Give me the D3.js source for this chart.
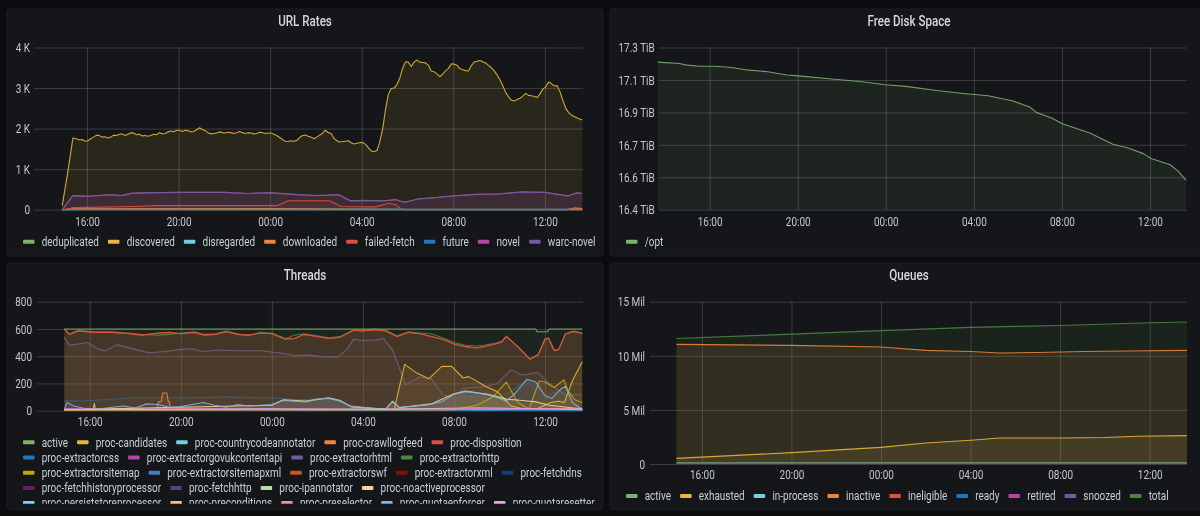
<!DOCTYPE html>
<html><head><meta charset="utf-8">
<script src="https://cdn.jsdelivr.net/npm/d3@7"></script>
<style>html,body{margin:0;padding:0;background:#0b0c0e;overflow:hidden}svg{display:block;filter:blur(.35px)}text{font-family:Roboto,sans-serif}</style>
</head><body><svg id="c" width="1200" height="516"></svg>
<script>
const hourTicks=[16,20,24,28,32,36];
const hourDomain=[13.68,37.66];

/* URL Rates: [hour, urls/s] */
const discovered=[[14.91,100],[15.16,950],[15.38,1770],[15.53,1750],[15.66,1720],[15.78,1730],[15.91,1690],[16.04,1700],[16.16,1750],[16.28,1790],[16.41,1840],[16.53,1830],[16.66,1790],[16.78,1800],[16.91,1770],[17.04,1790],[17.16,1840],[17.28,1830],[17.41,1860],[17.53,1870],[17.66,1830],[17.78,1860],[17.91,1900],[18.04,1890],[18.16,1850],[18.28,1860],[18.41,1820],[18.53,1830],[18.66,1810],[18.78,1830],[18.91,1860],[19.04,1850],[19.16,1900],[19.28,1870],[19.41,1880],[19.53,1920],[19.66,1940],[19.78,1920],[19.91,1960],[20.04,1960],[20.16,1930],[20.28,1960],[20.41,1950],[20.53,1920],[20.66,1930],[20.78,1970],[20.91,2020],[21.04,1980],[21.16,1950],[21.28,1900],[21.41,1870],[21.53,1880],[21.66,1890],[21.78,1920],[21.91,1900],[22.04,1890],[22.16,1910],[22.28,1900],[22.41,1880],[22.53,1900],[22.66,1930],[22.78,1900],[22.91,1880],[23.04,1900],[23.16,1890],[23.28,1870],[23.41,1880],[23.53,1910],[23.66,1900],[23.78,1880],[23.91,1890],[24.04,1890],[24.16,1860],[24.28,1830],[24.41,1780],[24.53,1730],[24.66,1690],[24.78,1680],[24.91,1700],[25.04,1690],[25.16,1710],[25.28,1780],[25.41,1830],[25.53,1840],[25.66,1810],[25.78,1790],[25.91,1750],[26.04,1790],[26.16,1840],[26.28,1880],[26.41,1960],[26.53,1900],[26.66,1880],[26.78,1760],[26.91,1700],[27.04,1670],[27.16,1680],[27.28,1690],[27.41,1700],[27.53,1650],[27.66,1620],[27.78,1640],[27.91,1650],[28.04,1660],[28.16,1610],[28.28,1530],[28.41,1450],[28.53,1430],[28.66,1460],[28.78,1660],[28.91,2000],[29.04,2450],[29.16,2850],[29.28,2990],[29.41,3000],[29.53,3080],[29.66,3250],[29.78,3480],[29.91,3650],[30.04,3640],[30.16,3530],[30.28,3640],[30.41,3690],[30.53,3640],[30.66,3630],[30.78,3620],[30.91,3560],[31.04,3420],[31.16,3400],[31.28,3350],[31.41,3280],[31.53,3340],[31.66,3430],[31.78,3480],[31.91,3600],[32.04,3590],[32.16,3560],[32.28,3480],[32.41,3450],[32.53,3430],[32.66,3420],[32.78,3550],[32.91,3640],[33.04,3660],[33.16,3680],[33.28,3650],[33.41,3620],[33.53,3560],[33.66,3500],[33.78,3430],[33.91,3320],[34.04,3210],[34.16,3050],[34.28,2900],[34.41,2780],[34.53,2700],[34.66,2680],[34.78,2720],[34.91,2750],[35.04,2800],[35.16,2870],[35.28,2820],[35.41,2810],[35.53,2790],[35.66,2770],[35.78,2850],[35.91,2980],[36.04,3030],[36.16,3150],[36.28,3110],[36.41,3050],[36.53,3060],[36.66,2900],[36.78,2700],[36.91,2500],[37.04,2400],[37.16,2330],[37.28,2300],[37.41,2260],[37.64,2210]];
const warcNovel=[[14.91,0],[15.38,350],[16,330],[17,370],[17.5,350],[18,410],[19,420],[20,430],[22,430],[23,400],[24,420],[25,380],[26,350],[27,370],[27.5,220],[28,230],[29,220],[29.5,250],[29.8,190],[30,200],[30.5,270],[31,290],[32,340],[33,380],[34,390],[35,440],[36,430],[37,340],[37.4,420],[37.64,400]];
const novel=[[14.91,0],[15.38,348],[16,328],[17,368],[17.5,348],[18,408],[19,418],[20,428],[22,428],[23,398],[24,418],[25,378],[26,348],[27,368],[27.5,218],[28,228],[29,218],[29.5,248],[29.8,188],[30,198],[30.5,268],[31,288],[32,338],[33,378],[34,388],[35,438],[36,428],[37,338],[37.4,418],[37.64,398]];
const failedFetch=[[14.91,0],[15.38,50],[18,80],[19,100],[24.3,100],[24.8,220],[26.6,220],[27.1,80],[28.6,70],[29.2,160],[29.5,120],[29.75,0],[37,0],[37.3,50],[37.64,30]];
const deduplicated=[[14.91,0],[37.64,2]];
const disregarded=[[14.91,0],[15.38,12],[24,15],[30,8],[37.64,10]];
const downloaded=[[14.91,0],[15.38,20],[24,22],[30,6],[37,6],[37.3,40],[37.64,20]];
const future=[[14.91,0],[37.64,0]];

/* Free disk space: [hour, TiB] */
const diskOpt=[[13.65,17.195],[14.64,17.188],[14.9,17.181],[15.51,17.174],[16.21,17.174],[16.91,17.169],[17.78,17.154],[18.65,17.146],[19.52,17.129],[20.04,17.125],[21.43,17.11],[22.82,17.096],[24,17.079],[24.91,17.071],[26.3,17.05],[27.52,17.035],[28.65,17.023],[29.79,16.996],[30.57,16.964],[30.83,16.938],[31.53,16.909],[32.05,16.879],[33.27,16.833],[34.31,16.775],[35.01,16.756],[35.7,16.727],[36.05,16.702],[36.92,16.67],[37.27,16.639],[37.64,16.591]];
const diskTickValues=[16.44,16.606,16.772,16.938,17.104,17.27];
const diskTickLabels=["16.4 TiB","16.6 TiB","16.7 TiB","16.9 TiB","17.1 TiB","17.3 TiB"];

/* Threads: [hour, count] */
const thActive=[[14.89,600],[35.58,600],[35.65,580],[36.1,580],[36.18,600],[37.64,600]];
const thDisposition=[[14.89,600],[15.1,560],[15.5,585],[16.2,575],[17,575],[17.7,565],[18.3,555],[19,570],[19.5,575],[20,565],[20.6,575],[21,555],[21.5,560],[22,580],[22.5,560],[23,555],[23.5,570],[24,565],[24.6,525],[25,530],[25.4,560],[26,545],[26.5,530],[27,540],[27.6,590],[28,585],[28.5,595],[29,585],[29.5,545],[30,575],[30.5,565],[31,545],[31.5,525],[32,490],[32.5,470],[33,460],[33.3,470],[33.8,490],[34.1,505],[34.3,545],[34.8,470],[35.33,378],[35.7,410],[36,525],[36.15,530],[36.4,442],[36.6,450],[36.9,565],[37.26,582],[37.64,567]];
const thHttp=[[14.89,600],[15.1,565],[15.5,590],[16.2,580],[17,580],[17.7,570],[18.3,560],[19,555],[19.5,560],[20,570],[20.6,580],[21,560],[21.5,565],[22,585],[22.5,565],[23,550],[23.5,575],[24,570],[24.6,530],[25,555],[25.4,565],[26,550],[26.5,535],[27,545],[27.6,595],[28,590],[28.5,600],[29,590],[29.5,550],[30,580],[30.5,570],[31,565],[31.5,535],[32,500],[32.5,480],[33,475],[33.3,480],[33.8,495],[34.1,510],[34.3,545],[34.8,470],[35.33,380],[35.7,412],[36,530],[36.15,535],[36.4,445],[36.6,452],[36.9,565],[37.26,585],[37.64,570]];
const thFetchHttp=[[14.89,540],[15.1,480],[15.5,490],[15.9,500],[16.4,450],[16.7,440],[17.2,485],[18,450],[18.6,425],[19.3,435],[20,450],[20.5,455],[21,435],[21.7,445],[22.5,440],[23.5,440],[24.3,425],[25,405],[25.5,410],[26.3,395],[26.9,395],[27.3,450],[27.6,525],[28,515],[28.6,520],[28.9,530],[29.3,447],[29.55,337],[29.87,190],[30.5,245],[31,235],[31.5,117],[32,93],[32.4,165],[33.4,178],[33.9,200],[34.5,300],[35,260],[35.66,281],[36.25,190],[36.9,117],[37.64,117]];
const thCandidates=[[14.89,8],[16.15,8],[16.2,55],[16.25,8],[29.1,8],[29.37,5],[29.84,340],[30.37,276],[30.9,235],[31.47,325],[31.9,325],[32.4,240],[32.65,250],[33.4,178],[33.9,140],[34.5,35],[34.9,20],[35.6,10],[36.25,60],[36.6,70],[36.85,60],[37.2,220],[37.64,360]];
const thSitemap=[[14.89,4],[32,6],[32.5,25],[33,40],[33.7,100],[34.3,210],[34.8,60],[35.3,15],[35.75,220],[36,210],[36.4,170],[36.84,227],[37,150],[37.3,80],[37.64,60]];
const thEnforcer=[[14.89,10],[15,60],[15.3,35],[15.7,20],[16.3,10],[17,25],[17.5,35],[18,20],[18.5,50],[19,45],[19.5,25],[20,30],[20.5,45],[21,60],[21.5,40],[22,25],[22.5,45],[23,35],[23.5,40],[24,45],[24.5,75],[25,70],[25.5,65],[26,85],[26.5,90],[27,70],[27.5,30],[28,25],[28.5,15],[29,10],[29.3,70],[29.6,25],[30,30],[31,45],[31.5,70],[32,120],[32.5,140],[33,130],[33.5,115],[34,90],[34.3,70],[34.7,130],[35.2,230],[35.6,210],[36,110],[36.3,90],[36.7,160],[36.9,180],[37.2,60],[37.64,10]];
const thNoActive=[[14.89,6],[24,40],[24.5,80],[25.5,70],[26.5,95],[27,75],[27.5,28],[29,12],[29.3,68],[29.6,22],[31,50],[32,125],[32.5,145],[33.5,120],[34.3,85],[35,75],[35.6,65],[36.2,40],[37.64,12]];
const thFetchDns=[[14.89,70],[16,75],[18,95],[20,95],[22,100],[24,95],[25,80],[26,85],[27,60],[28,22],[29,8],[29.3,60],[29.6,20],[31,40],[32,110],[33,125],[34,85],[35.2,220],[36,100],[36.9,170],[37.64,8]];
const thCrawlLog=[[14.89,5],[18.95,5],[19.02,66],[19.15,66],[19.2,130],[19.39,130],[19.45,66],[19.5,66],[19.55,10],[37.64,10]];
const thPreselector=[[14.89,5],[20,12],[26,8],[30,14],[34,10],[37.64,18]];
const thResetter=[[14.89,12],[18,8],[24,14],[29,10],[33,22],[37.64,8]];
const thGovuk=[[14.89,14],[20,16],[28,12],[37.64,14]];
const thHtml=[[14.89,6],[24,8],[33,18],[37.64,10]];
const thCss=[[14.89,2],[37.64,2]];

/* Queues: [hour, millions] */
const qTotal=[[14.87,11.6],[20,12],[24,12.33],[28,12.63],[30,12.72],[32,12.8],[36,13.05],[37.66,13.12]];
const qInactive=[[14.87,11.06],[20,10.96],[24,10.81],[26,10.5],[28,10.4],[29.3,10.26],[31,10.3],[33,10.4],[35,10.45],[37.66,10.5]];
const qExhausted=[[14.87,.52],[20,1.05],[24,1.54],[26,1.94],[28,2.19],[29.3,2.4],[32,2.4],[34,2.45],[35.5,2.56],[37.66,2.62]];
const qSnoozed=[[14.87,.06],[37.66,.06]];
const qActive=[[14.87,.1],[37.66,.1]];

const C={g:"#7EB26D",y:"#EAB839",c:"#6ED0E0",o:"#EF843C",r:"#E24D42",b:"#1F78C1",p:"#BA43A9",v:"#705DA0"};
const urlLegend=[["deduplicated",C.g,deduplicated],["discovered",C.y,discovered],["disregarded",C.c,disregarded],["downloaded",C.o,downloaded],["failed-fetch",C.r,failedFetch],["future",C.b,future],["novel",C.p,novel],["warc-novel",C.v,warcNovel]];
const diskLegend=[["/opt",C.g,diskOpt]];
const threadLegend=[["active",C.g,thActive],["proc-candidates",C.y,thCandidates],["proc-countrycodeannotator",C.c,null],["proc-crawllogfeed",C.o,thCrawlLog],["proc-extractorhttp-order",null,null],["proc-disposition",C.r,thDisposition],["proc-extractorcss",C.b,thCss],["proc-extractorgovukcontentapi",C.p,thGovuk],["proc-extractorhtml",C.v,thHtml],["proc-extractorhttp","#508642",null],["proc-extractorsitemap","#CCA300",thSitemap],["proc-extractorsitemapxml","#447EBC",null],["proc-extractorswf","#C15C17",null],["proc-extractorxml","#890F02",null],["proc-fetchdns","#0A437C",null],["proc-fetchhistoryprocessor","#6D1F62",null],["proc-fetchhttp","#584477",null],["proc-ipannotator","#B7DBAB",null],["proc-noactiveprocessor","#F4D598",thNoActive],["proc-persiststoreprocessor","#70DBED",null],["proc-preconditions","#F9BA8F",null],["proc-preselector","#F29191",thPreselector],["proc-quotaenforcer","#82B5D8",thEnforcer],["proc-quotaresetter","#E5A8E2",thResetter]].filter(s=>s[1]);
const queueLegend=[["active",C.g,qActive],["exhausted",C.y,qExhausted],["in-process",C.c,null],["inactive",C.o,qInactive],["ineligible",C.r,null],["ready",C.b,null],["retired",C.p,null],["snoozed",C.v,qSnoozed],["total","#508642",qTotal]];
/* Threads series drawn underneath the others; some lines look lighter than their swatch in the picture */
const threadExtra=[["proc-fetchhttp","#75607f",thFetchHttp],["proc-fetchdns","#3f6078",thFetchDns],["proc-extractorhttp","#508642",thHttp],["proc-extractorswf","#C15C17",thDisposition]];

const panels=[
 {title:"URL Rates",box:[7,9,596,247],plot:[34,583,47.5,209.7],yDom:[0,4000],yTicks:[0,1000,2000,3000,4000],yFmt:d=>d?d/1000+" K":"0",labelEnd:30,xLabelY:221.7,legendX:23,legendY:241.7,legend:urlLegend,fill:.1},
 {title:"Free Disk Space",box:[610,9,598,247],plot:[658.6,1186.7,47.5,209.7],yDom:[16.44,17.27],yTicks:diskTickValues,yFmt:(d,i)=>diskTickLabels[i],labelEnd:654.7,xLabelY:221.7,legendX:626,legendY:241.7,legend:diskLegend,fill:.1},
 {title:"Threads",box:[7,263,596,246.7],plot:[37,583,301.7,410.7],yDom:[0,800],yTicks:[0,200,400,600,800],yFmt:d=>d,labelEnd:32,xLabelY:422,legendX:23,legendY:442.3,legend:threadLegend,extra:threadExtra,clipY:503.7,fill:.1},
 {title:"Queues",box:[610,263,598,246.7],plot:[650,1187,301.7,464],yDom:[0,15],yTicks:[0,5,10,15],yFmt:d=>d?d+" Mil":"0",labelEnd:645,xLabelY:475.3,legendX:626,legendY:496,legend:queueLegend,fill:.12}
];

const squeeze=.83;
const svg=d3.select("#c");
const hDate=h=>new Date(2020,0,1,0,Math.round(h*60));
svg.append("rect").attr("width",1200).attr("height",516).attr("fill","#0b0c0e");
const defs=svg.append("defs");

panels.forEach((p,pi)=>{
 const [bx,by,bw,bh]=p.box,[x0,x1,yT,yB]=p.plot;
 const g=svg.append("g");
 g.append("rect").attr("x",bx).attr("y",by).attr("width",bw).attr("height",bh).attr("rx",3).attr("fill","#141619").attr("stroke","#1c1e22");
 g.append("text").attr("transform",`translate(${bx+bw/2},${by+12}) scale(${squeeze},1)`).attr("text-anchor","middle").attr("dy",".35em").attr("font-size",14).attr("font-weight",500).attr("fill","#d8d9da").text(p.title);

 const x=d3.scaleTime().domain(hourDomain.map(hDate)).range([x0,x1]);
 const y=d3.scaleLinear().domain(p.yDom).range([yB,yT]);

 const ax=d3.axisBottom(x).tickValues(hourTicks.map(hDate)).tickFormat(d3.timeFormat("%H:%M")).tickSize(-(yB-yT)).tickPadding(0);
 const gx=g.append("g").attr("transform",`translate(0,${yB})`).call(ax);
 const ay=d3.axisLeft(y).tickValues(p.yTicks).tickFormat(p.yFmt).tickSize(-(x1-x0)).tickPadding(0);
 const gy=g.append("g").attr("transform",`translate(${x0},0)`).call(ay);
 [gx,gy].forEach(a=>{a.select(".domain").remove();a.selectAll("line").attr("stroke","#fff").attr("stroke-opacity",.17).attr("stroke-width",1);
   a.selectAll("text").attr("font-size",12).attr("fill","#c4c7cb").attr("font-family","Roboto,sans-serif");});
 gx.selectAll("text").attr("y",p.xLabelY-yB).attr("dy",".35em").attr("transform",`scale(${squeeze},1)`);
 gy.selectAll("text").attr("x",(p.labelEnd-x0)/squeeze).attr("dy",".35em").attr("transform",`scale(${squeeze},1)`);

 const line=d3.line().x(d=>x(hDate(d[0]))).y(d=>y(d[1]));
 const area=d3.area().x(d=>x(hDate(d[0]))).y0(yB).y1(d=>y(d[1]));
 const drawn=(p.extra||[]).concat(p.legend.filter(s=>s[2]));
 g.append("g").selectAll("path").data(drawn).join("path").attr("d",s=>area(s[2])).attr("fill",s=>s[1]).attr("fill-opacity",p.fill);
 g.append("g").selectAll("path").data(drawn).join("path").attr("d",s=>line(s[2])).attr("fill","none").attr("stroke",s=>s[1]).attr("stroke-width",1.1).attr("stroke-opacity",.88).attr("stroke-linejoin","round");

 const lg=g.append("g");
 if(p.clipY){defs.append("clipPath").attr("id","clip"+pi).append("rect").attr("x",bx).attr("y",by).attr("width",bw).attr("height",p.clipY-by);lg.attr("clip-path",`url(#clip${pi})`);}
 let cx=p.legendX,cy=p.legendY;const limit=bx+bw-5;
 p.legend.forEach(s=>{
  const it=lg.append("g");
  const t=it.append("text").attr("dy",".35em").attr("font-size",12).attr("fill","#c7d0d9").text(s[0]);
  const w=t.node().getComputedTextLength()*squeeze;
  if(cx+18.7+w>limit){cx=p.legendX;cy+=15.2;}
  it.append("rect").attr("x",cx).attr("y",cy-2).attr("width",11.5).attr("height",4).attr("rx",1).attr("fill",s[1]);
  t.attr("transform",`translate(${cx+18.7},${cy}) scale(${squeeze},1)`);
  cx+=18.7+w+9;
 });
});
</script></body></html>
